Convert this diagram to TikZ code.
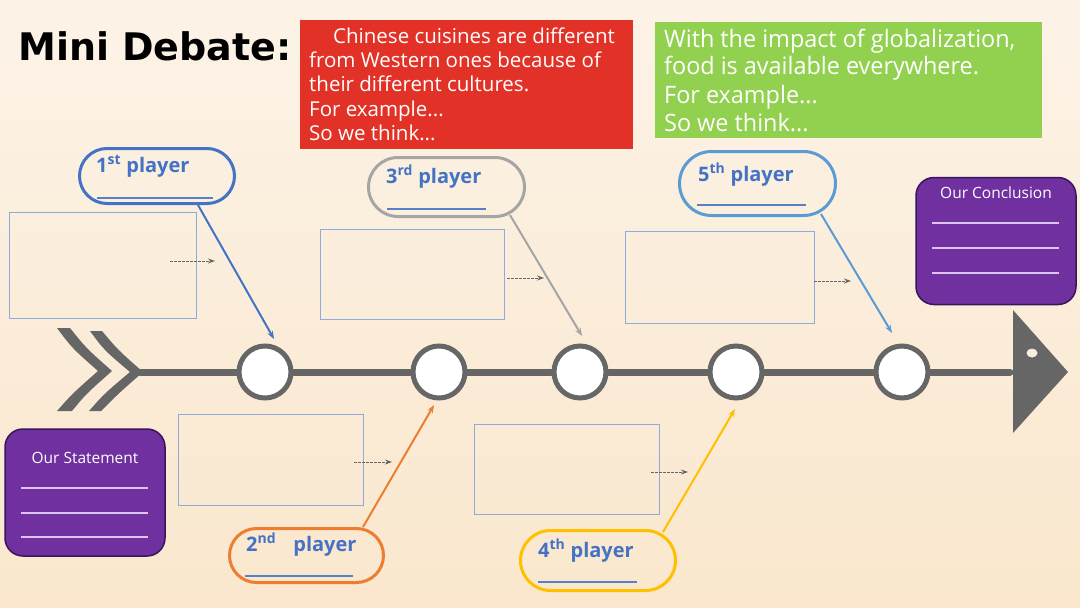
\documentclass[tikz,border=0pt]{standalone}
\usepackage{fontspec}
\setmainfont{Open Sans}
\newfontfamily\titlefont{DejaVu Sans}
\newfontfamily\redfont{Open Sans}
\newfontfamily\greenfont{Open Sans}[FakeStretch=0.975]
\usetikzlibrary{arrows.meta}
\definecolor{bgtop}{RGB}{252,243,231}
\definecolor{bgbot}{RGB}{250,231,205}
\definecolor{spinec}{RGB}{102,102,102}
\definecolor{redbox}{RGB}{226,50,40}
\definecolor{greenbox}{RGB}{146,208,80}
\definecolor{purp}{RGB}{112,48,160}
\definecolor{purpdark}{RGB}{55,22,90}
\definecolor{lav}{RGB}{222,196,242}
\definecolor{rectc}{RGB}{143,170,220}
\definecolor{txtblue}{RGB}{68,114,196}
\definecolor{pblue}{RGB}{68,114,196}
\definecolor{pgray}{RGB}{165,165,165}
\definecolor{plblue}{RGB}{91,155,213}
\definecolor{porange}{RGB}{237,125,49}
\definecolor{pyellow}{RGB}{255,192,0}
\definecolor{dotc}{RGB}{250,238,225}
\tikzset{
  hub/.style={circle, draw=spinec, line width=5pt, fill=white, minimum size=52pt, inner sep=0pt},
  ideabox/.style={draw=rectc, line width=1pt, inner sep=0pt},
  bubble/.style={draw=#1, line width=3pt, inner sep=0pt},
  plabel/.style={anchor=base west, inner sep=0pt, text=txtblue, font=\fontsize{20}{24}\selectfont\bfseries},
  uline/.style={draw=txtblue!90, line width=1.5pt},
  hint/.style={draw=spinec, line width=1pt, dash pattern=on 2.5pt off 1.5pt, -{Stealth[length=7pt,width=5pt]}},
  conn/.style={draw=#1, line width=2pt, -{Stealth[length=8pt,width=6pt]}},
  endbox/.style={draw=purpdark, line width=1.5pt, fill=purp, rounded corners=18pt, minimum width=160pt, minimum height=127pt, inner sep=0pt},
  endtitle/.style={anchor=base, inner sep=0pt, text=white, font=\fontsize{15.5}{18}\selectfont},
  endline/.style={draw=lav, line width=1.8pt},
  boxtext/.style={anchor=base west, inner sep=0pt, text=white},
}
\begin{document}
\begin{tikzpicture}[x=1pt,y=-1pt]
\useasboundingbox (0,0) rectangle (1080,608);
\shade[top color=bgtop, bottom color=bgbot] (0,0) rectangle (1080,608);

% title
\node[anchor=base west, inner sep=0pt, font=\titlefont\bfseries\fontsize{38}{40}\selectfont] (title) at (18,60) {Mini Debate:};

% red box
\node[fill=redbox, minimum width=333pt, minimum height=129pt, inner sep=0pt] (red) at (466.5,84.5) {};
\begin{scope}[every node/.style={boxtext, font=\redfont\fontsize{20.5}{24}\selectfont}]
\node (rt1) at (333,43) {Chinese cuisines are different};
\node (rt2) at (309,67.5) {from Western ones because of};
\node (rt3) at (309,91.5) {their different cultures.};
\node (rt4) at (309,116) {For example...};
\node (rt5) at (309,140) {So we think...};
\end{scope}

% green box
\node[fill=greenbox, minimum width=387pt, minimum height=116pt, inner sep=0pt] (green) at (848.5,80) {};
\begin{scope}[every node/.style={boxtext, font=\greenfont\fontsize{24}{28}\selectfont}]
\node (gt1) at (664,47) {With the impact of globalization,};
\node (gt2) at (664,74) {food is available everywhere.};
\node (gt3) at (664,103.5) {For example...};
\node (gt4) at (664,131.5) {So we think...};
\end{scope}

% idea rectangles
\node[ideabox, minimum width=187pt, minimum height=106pt] (r1) at (102.5,265) {};
\node[ideabox, minimum width=185pt, minimum height=91pt] (r2) at (270.5,459.5) {};
\node[ideabox, minimum width=184pt, minimum height=90pt] (r3) at (412,274) {};
\node[ideabox, minimum width=185pt, minimum height=90pt] (r4) at (566.5,469) {};
\node[ideabox, minimum width=189pt, minimum height=92pt] (r5) at (719.5,277) {};
\coordinate (h1s) at (170,261); \coordinate (h1e) at (215,261);
\coordinate (h2s) at (354,462); \coordinate (h2e) at (392,462);
\coordinate (h3s) at (507,278); \coordinate (h3e) at (544,278);
\coordinate (h4s) at (651,472); \coordinate (h4e) at (688,472);
\coordinate (h5s) at (814,281); \coordinate (h5e) at (851,281);
\draw[hint] (h1s) -- (h1e);
\draw[hint] (h2s) -- (h2e);
\draw[hint] (h3s) -- (h3e);
\draw[hint] (h4s) -- (h4e);
\draw[hint] (h5s) -- (h5e);

% fish bone: tail chevrons
\fill[spinec] (57,328) -- (70,328) .. controls (86,348) .. (112,371) .. controls (86,394) .. (72,411) -- (57,411) .. controls (72,394) .. (98,371) .. controls (72,348) .. (57,328) -- cycle;
\fill[spinec] (90,331) -- (102,331) .. controls (118,350) .. (143,372) .. controls (118,394) .. (101,411) -- (89,411) .. controls (104,394) .. (130,372) .. controls (104,350) .. (90,331) -- cycle;

% spine
\coordinate (tail) at (140,372);
\coordinate (head) at (1010,372);
\draw[spinec, line width=7pt, line cap=round] (tail) -- (head);
\fill[spinec] (1013,310) -- (1068,372) -- (1013,433) -- cycle;
\fill[dotc] (1032,353) ellipse [x radius=5.5pt, y radius=4.5pt];

% hubs
\node[hub] (c1) at (265,372) {};
\node[hub] (c2) at (439,372) {};
\node[hub] (c3) at (580,372) {};
\node[hub] (c4) at (736,372) {};
\node[hub] (c5) at (902,372) {};

% player bubbles
\node[bubble=pblue, rounded corners=27.5pt, minimum width=155pt, minimum height=55pt] (p1) at (157,176) {};
\node[bubble=porange, rounded corners=27pt, minimum width=154pt, minimum height=54pt] (p2) at (306.5,555.5) {};
\node[bubble=pgray, rounded corners=29.5pt, minimum width=156pt, minimum height=59pt] (p3) at (446.5,187) {};
\node[bubble=pyellow, rounded corners=30pt, minimum width=155pt, minimum height=60pt] (p4) at (598,560.5) {};
\node[bubble=plblue, rounded corners=32pt, minimum width=156pt, minimum height=64pt] (p5) at (757.5,183.5) {};

\node[plabel] (l1) at (96,172) {1\textsuperscript{st} player};
\node[plabel] (l2) at (246,551) {2\textsuperscript{nd}\hspace{0.6em} player};
\node[plabel] (l3) at (386,183) {3\textsuperscript{rd} player};
\node[plabel] (l4) at (538,557) {4\textsuperscript{th} player};
\node[plabel] (l5) at (698,181) {5\textsuperscript{th} player};

\draw[uline] (97,198) -- (213,198);
\draw[uline] (245,576) -- (353,576);
\draw[uline] (387,209) -- (486,209);
\draw[uline] (538,582) -- (637,582);
\draw[uline] (697,205) -- (806,205);

% connectors
\coordinate (s1) at ([xshift=41pt]p1.south);
\coordinate (s2) at ([xshift=56.5pt]p2.north);
\coordinate (s3) at ([xshift=63.5pt,yshift=3pt]p3.south);
\coordinate (s4) at ([xshift=65pt,yshift=-3pt]p4.north);
\coordinate (s5) at ([xshift=63.5pt,yshift=3pt]p5.south);
\draw[conn=pblue] (s1) -- ([xshift=9pt,yshift=33pt]c1.center);
\draw[conn=porange] (s2) -- ([xshift=-5pt,yshift=-33pt]c2.center);
\draw[conn=pgray] (s3) -- ([xshift=2pt,yshift=36pt]c3.center);
\draw[conn=pyellow] (s4) -- ([xshift=-1pt,yshift=-37pt]c4.center);
\draw[conn=plblue] (s5) -- ([xshift=-10pt,yshift=39pt]c5.center);

% conclusion and statement
\node[endbox] (concl) at (996,241) {};
\node[endtitle] (conclt) at (996,198) {Our Conclusion};
\draw[endline] (932,223) -- (1059,223);
\draw[endline] (932,248) -- (1059,248);
\draw[endline] (932,273) -- (1059,273);

\node[endbox] (stmt) at (85,492.5) {};
\node[endtitle] (stmtt) at (85,463) {Our Statement};
\draw[endline] (21,488) -- (148,488);
\draw[endline] (21,513) -- (148,513);
\draw[endline] (21,537) -- (148,537);
\end{tikzpicture}
\end{document}
